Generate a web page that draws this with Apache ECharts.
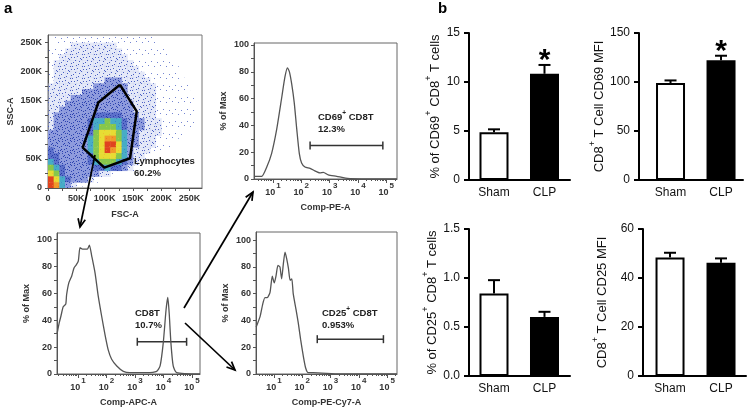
<!DOCTYPE html>
<html><head><meta charset="utf-8">
<script src="https://cdn.jsdelivr.net/npm/echarts@6/dist/echarts.min.js"></script>
<style>html,body{margin:0;padding:0;background:#fff}#c{width:748px;height:410px}</style>
</head><body><div id="c"></div><script>
// ================= DATA =================
const groups = ['Sham', 'CLP'];
const groupPos = [1, 2];
const cd69Pct = [4.87, 10.84];
const cd69PctErr = [0.30, 0.90];
const cd69PctSig = [false, true];
const cd69Mfi = [98.9, 122.1];
const cd69MfiErr = [2.7, 4.7];
const cd69MfiSig = [false, true];
const cd25Pct = [0.842, 0.603];
const cd25PctErr = [0.136, 0.052];
const cd25PctSig = [false, false];
const cd25Mfi = [48.4, 46.2];
const cd25MfiErr = [1.9, 1.8];
const cd25MfiSig = [false, false];

const scatterTicks = [0, 50000, 100000, 150000, 200000, 250000];
const scatterTickLabels = ['0', '50K', '100K', '150K', '200K', '250K'];
const lymphGate = [[127000,177600],[156700,131600],[144900,51200],[99500,35000],[61300,69500],[88900,147000]];
// density levels per 10K x 10K cell, top row = 250K-260K, columns 0K..260K
const densityRows = [
"01111111111111111110000000",
"11112222222211111111000000",
"11122222222221111111100000",
"11222222222222111111110000",
"12222222222222211111110000",
"12222222222222221111111000",
"12222222222222222111111000",
"12222222223332222211111100",
"22222222333333222221111110",
"22222233333333222221111110",
"22223333333333222221111111",
"22233333333333322221111111",
"22333333333333322221111111",
"23333333444443332221111111",
"23333334556554333222111111",
"23333334566654333222111111",
"33333334677765332222111100",
"33333335678865332221111000",
"33333335679975332221110000",
"43333335679875322211000000",
"44333334677765322100000000",
"54333334566654321000000000",
"65433333445443210000000000",
"76433333322100000000000000",
"97543332100000000000000000",
"98532100000000000000000000"
];

const decades = [1, 2, 3, 4, 5];
const histYLabels = [0, 20, 40, 60, 80, 100];
const histYTicks = [0, 10, 20, 30, 40, 50, 60, 70, 80, 90, 100];
// histograms: [log10 intensity, % of max]
const cd69Hist = [[0.33,2],[0.6,2],[0.78,9],[0.95,19],[1.13,37],[1.31,61],[1.42,76],[1.51,83],[1.58,80],[1.66,71],[1.75,57],[1.84,37],[1.93,19],[2.01,12],[2.13,9],[2.31,8],[2.48,6],[2.66,4.5],[2.78,5],[2.95,3],[3.25,2],[3.48,1],[3.72,0.3],[5.38,0]];
const cd8Hist = [[0.27,30.5],[0.34,38],[0.4,43],[0.48,50],[0.57,52],[0.6,59],[0.68,68],[0.78,73],[0.86,79],[0.93,81],[1.01,84],[1.07,94],[1.16,93],[1.25,93],[1.33,93],[1.4,96],[1.48,88],[1.6,75],[1.71,58],[1.83,43],[1.95,29],[2.06,18],[2.18,11],[2.36,6],[2.59,2],[2.82,1],[3.41,1],[3.76,2],[3.88,6],[3.99,23],[4.09,48],[4.15,57],[4.2,45],[4.26,23],[4.34,6],[4.46,1],[5.28,0]];
const cd25Hist = [[0.37,35],[0.51,43],[0.6,52],[0.68,57],[0.76,57],[0.86,61],[0.94,73],[1.01,68],[1.07,73],[1.14,81],[1.21,80],[1.27,71],[1.33,82],[1.39,91],[1.45,86],[1.51,79],[1.57,70],[1.63,71],[1.68,60],[1.78,48],[1.86,38],[1.94,26],[2.04,13],[2.12,4.5],[2.21,1],[2.39,1],[3.33,0],[5.35,0]];
const cd69Gate = [2.31, 4.88, 25];
const cd8Gate = [3.08, 4.81, 24];
const cd25Gate = [2.53, 4.87, 26];

// ================= BUILD =================
const FONT = 'Liberation Sans, Arial, sans-serif';
const FG = '#333';

// speckle textures for the density levels (fixed dot layout within a 12px tile)
const tileDots = [[1,2],[7,1],[4,5],[10,6],[2,9],[8,10],[5,8],[11,3],[0,6],[6,4],[9,11],[3,0],[11,9],[4,11],[7,7],[1,5],[9,2],[5,1],[2,7],[10,8],[0,10],[6,10],[3,3],[8,4]];
function makeTile(bg, dot, n) {
  const cv = document.createElement('canvas');
  cv.width = 12; cv.height = 12;
  const ctx = cv.getContext('2d');
  if (bg) { ctx.fillStyle = bg; ctx.fillRect(0, 0, 12, 12); }
  ctx.fillStyle = dot;
  for (let i = 0; i < n; i++) ctx.fillRect(tileDots[i][0], tileDots[i][1], 1, 1);
  return {image: cv, repeat: 'repeat'};
}
const levelFills = [
  null,
  makeTile(null, '#7585d2', 4),
  makeTile('rgba(190,200,238,0.4)', '#4a5fc4', 13),
  makeTile('#8e9bdd', '#2a40ae', 20),
  makeTile('#5c70cb', '#2a3fa8', 24),
  makeTile('#47acc6', '#3a8ac4', 8),
  makeTile('#86c74c', '#a8d040', 6),
  makeTile('#e7dc33', '#f0c030', 6),
  makeTile('#f19a2a', '#f07a26', 6),
  makeTile('#e0431f', '#e86a22', 4)
];

const densityData = [];
densityRows.forEach((row, i) => {
  for (let c = 0; c < row.length; c++) {
    const lv = +row[c];
    if (lv > 0) densityData.push([c * 10000, (densityRows.length - 1 - i) * 10000, lv]);
  }
});

const minorDec = [];
for (let k = 0; k <= 5; k++) for (let m = 2; m <= 9; m++) minorDec.push(k + Math.log10(m));
const scatterMinor = [];
for (let v = 0; v <= 275000; v += 25000) scatterMinor.push(v);

const flowLabel = {fontFamily: FONT, fontWeight: 'bold', fontSize: 9, color: FG};
const decRich = {
  n: {fontFamily: FONT, fontWeight: 'bold', fontSize: 9, color: FG, lineHeight: 15, verticalAlign: 'bottom'},
  s: {fontFamily: FONT, fontWeight: 'bold', fontSize: 8, color: FG, lineHeight: 9, verticalAlign: 'top', padding: [0,0,0,1]}
};

function histX(grid, min, max, name) {
  return [
    {type: 'value', gridIndex: grid, min: min, max: max, position: 'bottom',
     axisLine: {show: true, lineStyle: {color: '#555', width: 1}},
     axisTick: {show: true, length: 4, customValues: decades, lineStyle: {color: '#555'}},
     axisLabel: {customValues: decades, margin: 3, formatter: v => '{n|10}{s|' + v + '}', rich: decRich},
     splitLine: {show: false},
     name: name, nameLocation: 'middle', nameGap: 24,
     nameTextStyle: flowLabel},
    {type: 'value', gridIndex: grid, min: min, max: max, position: 'bottom',
     axisLine: {show: false},
     axisTick: {show: true, length: 2, customValues: minorDec, lineStyle: {color: '#555'}},
     axisLabel: {show: false}, splitLine: {show: false}}
  ];
}
function histY(grid, max) {
  return {type: 'value', gridIndex: grid, min: 0, max: max,
    axisLine: {show: true, lineStyle: {color: '#555'}},
    axisTick: {show: true, length: 3, customValues: histYTicks, lineStyle: {color: '#555'}},
    axisLabel: Object.assign({customValues: histYLabels, margin: 5}, flowLabel),
    splitLine: {show: false},
    name: '% of Max', nameLocation: 'middle', nameGap: 26, nameTextStyle: flowLabel};
}
function gateRender(params, api) {
  const a = api.coord([api.value(0), api.value(2)]);
  const b = api.coord([api.value(1), api.value(2)]);
  const st = {stroke: '#333', lineWidth: 1.5};
  return {type: 'group', children: [
    {type: 'line', shape: {x1: a[0], y1: a[1], x2: b[0], y2: b[1]}, style: st},
    {type: 'line', shape: {x1: a[0], y1: a[1] - 4, x2: a[0], y2: a[1] + 4}, style: st},
    {type: 'line', shape: {x1: b[0], y1: b[1] - 4, x2: b[0], y2: b[1] + 4}, style: st}
  ]};
}

const BF = {fontFamily: FONT, fontSize: 12, color: '#111'};
const titleRich = {
  t: {fontFamily: FONT, fontSize: 13, color: '#111', lineHeight: 18, verticalAlign: 'bottom'},
  s: {fontFamily: FONT, fontSize: 9, color: '#111', lineHeight: 10, verticalAlign: 'top'}
};
function barX(grid, min, max) {
  return {type: 'value', gridIndex: grid, min: min, max: max,
    axisLine: {show: true, lineStyle: {color: '#000', width: 2}},
    axisTick: {show: false},
    axisLabel: Object.assign({customValues: groupPos, margin: 7, formatter: v => groups[v - 1]}, BF),
    splitLine: {show: false}};
}
function barY(grid, max, interval, name, gap, fmt) {
  return {type: 'value', gridIndex: grid, min: 0, max: max, interval: interval,
    axisLine: {show: true, lineStyle: {color: '#000', width: 2}},
    axisTick: {show: true, length: 5, lineStyle: {color: '#000', width: 2}},
    axisLabel: Object.assign({margin: 9, formatter: fmt}, BF),
    splitLine: {show: false},
    name: name, nameLocation: 'middle', nameGap: gap,
    nameTextStyle: {rich: titleRich}};
}
function barSeries(idx, vals) {
  return {type: 'bar', xAxisIndex: idx + 7, yAxisIndex: idx + 4, barWidth: 29,
    data: vals.map((v, i) => [groupPos[i], v]),
    itemStyle: {color: p => p.dataIndex === 0 ? '#fff' : '#000', borderColor: '#000', borderWidth: 2},
    z: 2};
}
function errSeries(idx, vals, errs, sig) {
  return {type: 'custom', xAxisIndex: idx + 7, yAxisIndex: idx + 4, z: 3,
    data: vals.map((v, i) => [groupPos[i], v, errs[i]]),
    renderItem: (params, api) => {
      const x = api.value(0), v = api.value(1), e = api.value(2);
      const p0 = api.coord([x, v]), p1 = api.coord([x, v + e]);
      const st = {stroke: '#000', lineWidth: 2};
      const ch = [
        {type: 'line', shape: {x1: p0[0], y1: p0[1], x2: p1[0], y2: p1[1]}, style: st},
        {type: 'line', shape: {x1: p1[0] - 6, y1: p1[1], x2: p1[0] + 6, y2: p1[1]}, style: st}
      ];
      if (sig[params.dataIndex]) ch.push({type: 'text', x: p1[0], y: p1[1] - 4,
        style: {text: '*', fontFamily: FONT, fontSize: 30, fontWeight: 'bold', fill: '#000', align: 'center', verticalAlign: 'middle'}});
      return {type: 'group', children: ch};
    }};
}

function arrow(x1, y1, x2, y2) {
  const ang = Math.atan2(y2 - y1, x2 - x1), L = 9, a = 0.42;
  const h1 = [x2 - L * Math.cos(ang - a), y2 - L * Math.sin(ang - a)];
  const h2 = [x2 - L * Math.cos(ang + a), y2 - L * Math.sin(ang + a)];
  return [
    {type: 'line', z: 100, shape: {x1, y1, x2, y2}, style: {stroke: '#000', lineWidth: 1.7}},
    {type: 'polyline', z: 100, shape: {points: [h1, [x2, y2], h2]}, style: {stroke: '#000', lineWidth: 1.7, fill: null}}
  ];
}
const gRich = {
  a: {fontFamily: FONT, fontWeight: 'bold', fontSize: 9.5, fill: '#222', lineHeight: 12, verticalAlign: 'bottom'},
  s: {fontFamily: FONT, fontWeight: 'bold', fontSize: 6.5, fill: '#222', lineHeight: 8, verticalAlign: 'top'}
};
function gtext(x, y, text) {
  return {type: 'text', z: 100, left: x, top: y, style: {text: text, rich: gRich}};
}

const option = {
  animation: false,
  backgroundColor: '#fff',
  grid: [
    {left: 48, top: 35, width: 154, height: 153, show: true, borderColor: '#777', borderWidth: 1},
    {left: 254, top: 43, width: 143, height: 136, show: true, borderColor: '#666', borderWidth: 1},
    {left: 57, top: 233, width: 143, height: 141, show: true, borderColor: '#666', borderWidth: 1},
    {left: 256, top: 232, width: 141, height: 142, show: true, borderColor: '#666', borderWidth: 1},
    {left: 469, top: 33, width: 101, height: 147},
    {left: 639, top: 33, width: 104, height: 147},
    {left: 469, top: 229, width: 101, height: 147},
    {left: 643, top: 229, width: 103, height: 147}
  ],
  xAxis: [
    {type: 'value', gridIndex: 0, min: 0, max: 272000,
     axisLine: {show: true, lineStyle: {color: '#555'}},
     axisTick: {show: true, length: 3, customValues: scatterMinor, lineStyle: {color: '#555'}},
     axisLabel: Object.assign({customValues: scatterTicks, margin: 6, formatter: v => scatterTickLabels[scatterTicks.indexOf(v)]}, flowLabel),
     splitLine: {show: false},
     name: 'FSC-A', nameLocation: 'middle', nameGap: 22, nameTextStyle: flowLabel},
    ...histX(1, 0.329, 5.38, 'Comp-PE-A'),
    ...histX(2, 0.263, 5.28, 'Comp-APC-A'),
    ...histX(3, 0.364, 5.35, 'Comp-PE-Cy7-A'),
    barX(4, 0.505, 2.505),
    barX(5, 0.376, 2.435),
    barX(6, 0.505, 2.505),
    barX(7, 0.47, 2.49)
  ],
  yAxis: [
    {type: 'value', gridIndex: 0, min: 0, max: 263000,
     axisLine: {show: true, lineStyle: {color: '#555'}},
     axisTick: {show: true, length: 3, customValues: scatterMinor, lineStyle: {color: '#555'}},
     axisLabel: Object.assign({customValues: scatterTicks, margin: 6, formatter: v => scatterTickLabels[scatterTicks.indexOf(v)]}, flowLabel),
     splitLine: {show: false},
     name: 'SSC-A', nameLocation: 'middle', nameGap: 33, nameTextStyle: flowLabel},
    histY(1, 101.5),
    histY(2, 105),
    histY(3, 106),
    barY(4, 15, 5, '{t|% of CD69}{s|+}{t| CD8}{s|+}{t| T cells}', 27),
    barY(5, 150, 50, '{t|CD8}{s|+}{t| T Cell CD69 MFI}', 28),
    barY(6, 1.5, 0.5, '{t|% of CD25}{s|+}{t| CD8}{s|+}{t| T cells}', 28, v => v.toFixed(1)),
    barY(7, 60, 20, '{t|CD8}{s|+}{t| T Cell CD25 MFI}', 34)
  ],
  series: [
    {type: 'custom', xAxisIndex: 0, yAxisIndex: 0, clip: true, data: densityData, z: 1,
     renderItem: (params, api) => {
       const x = api.value(0), y = api.value(1), lv = api.value(2);
       const p0 = api.coord([x, y]), p1 = api.coord([x + 10000, y + 10000]);
       return {type: 'rect', shape: {x: p0[0], y: p1[1], width: p1[0] - p0[0] + 0.5, height: p0[1] - p1[1] + 0.5},
               style: {fill: levelFills[lv]}};
     }},
    {type: 'line', xAxisIndex: 0, yAxisIndex: 0, data: lymphGate.concat([lymphGate[0]]), symbol: 'none',
     lineStyle: {color: '#000', width: 2.5}, z: 5},
    {type: 'line', xAxisIndex: 1, yAxisIndex: 1, data: cd69Hist, symbol: 'none', smooth: 0.2,
     lineStyle: {color: '#555', width: 1.3}},
    {type: 'custom', xAxisIndex: 1, yAxisIndex: 1, data: [cd69Gate], renderItem: gateRender},
    {type: 'line', xAxisIndex: 3, yAxisIndex: 2, data: cd8Hist, symbol: 'none', smooth: 0.2,
     lineStyle: {color: '#555', width: 1.3}},
    {type: 'custom', xAxisIndex: 3, yAxisIndex: 2, data: [cd8Gate], renderItem: gateRender},
    {type: 'line', xAxisIndex: 5, yAxisIndex: 3, data: cd25Hist, symbol: 'none', smooth: 0.2,
     lineStyle: {color: '#555', width: 1.3}},
    {type: 'custom', xAxisIndex: 5, yAxisIndex: 3, data: [cd25Gate], renderItem: gateRender},
    barSeries(0, cd69Pct), errSeries(0, cd69Pct, cd69PctErr, cd69PctSig),
    barSeries(1, cd69Mfi), errSeries(1, cd69Mfi, cd69MfiErr, cd69MfiSig),
    barSeries(2, cd25Pct), errSeries(2, cd25Pct, cd25PctErr, cd25PctSig),
    barSeries(3, cd25Mfi), errSeries(3, cd25Mfi, cd25MfiErr, cd25MfiSig)
  ],
  graphic: {elements: [
    {type: 'text', z: 100, left: 4, top: 1, style: {text: 'a', fontFamily: FONT, fontWeight: 'bold', fontSize: 15, fill: '#000'}},
    {type: 'text', z: 100, left: 438, top: 1, style: {text: 'b', fontFamily: FONT, fontWeight: 'bold', fontSize: 15, fill: '#000'}},
    gtext(134, 156, '{a|Lymphocytes}\n{a|60.2%}'),
    gtext(318, 110, '{a|CD69}{s|+}{a| CD8T}\n{a|12.3%}'),
    gtext(135, 308, '{a|CD8T}\n{a|10.7%}'),
    gtext(322, 306, '{a|CD25}{s|+}{a| CD8T}\n{a|0.953%}'),
    ...arrow(95, 155, 80, 227),
    ...arrow(184, 308, 253, 192),
    ...arrow(185, 323, 235, 370)
  ]}
};

const chart = echarts.init(document.getElementById('c'), null, {renderer: 'canvas'});
chart.setOption(option);
</script></body></html>
